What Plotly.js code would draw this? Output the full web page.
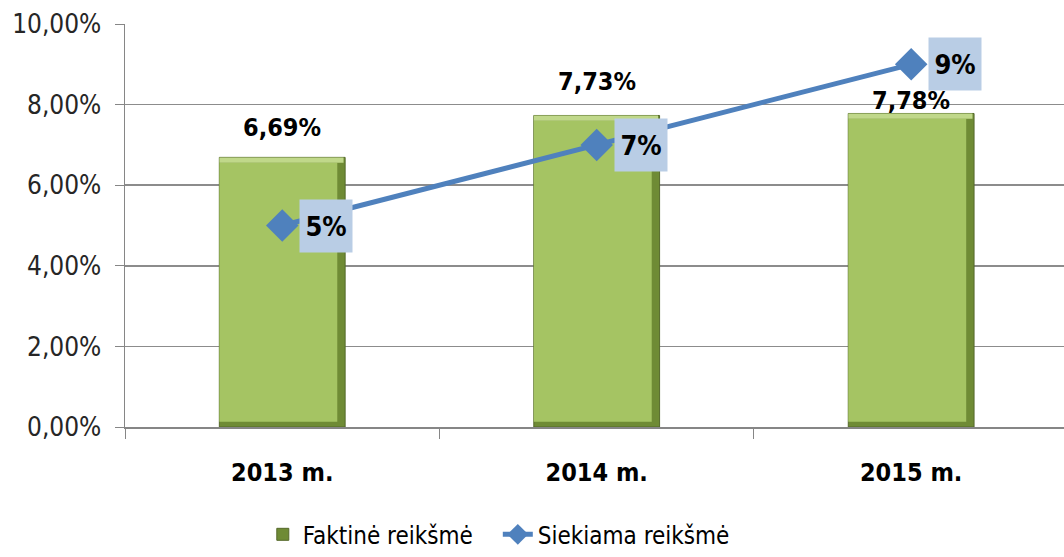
<!DOCTYPE html>
<html>
<head>
<meta charset="utf-8">
<script src="https://cdn.plot.ly/plotly-3.0.1.min.js"></script>
<style>html,body{margin:0;padding:0;background:#fff;}#chart{width:1064px;height:557px;}</style>
</head>
<body>
<div id="chart"></div>
<script>
// Data
const categories = ["2013 m.", "2014 m.", "2015 m."];
const actualValues = [6.69, 7.73, 7.78];      // Faktinė reikšmė (%)
const targetValues = [5, 7, 9];               // Siekiama reikšmė (%)
const actualLabels = ["6,69%", "7,73%", "7,78%"];
const targetLabels = ["5%", "7%", "9%"];
const yTickVals = [0, 2, 4, 6, 8, 10];
const yTickText = ["0,00%", "2,00%", "4,00%", "6,00%", "8,00%", "10,00%"];

const FONT = "Liberation Sans Narrow, Arial Narrow, DejaVu Sans Condensed, Liberation Sans, sans-serif";

// bevel effect: dark outer bar + lighter inner face (derived from the same values)
const bevel = 0.13;
const barOuter = {
  type: "bar",
  name: "Faktinė reikšmė",
  x: categories,
  y: actualValues,
  width: 0.4,
  marker: { color: "#6f8b35", line: { color: "#55692a", width: 1 } },
  hoverinfo: "skip"
};
const barInner = {
  type: "bar",
  name: "face",
  showlegend: false,
  x: categories,
  y: actualValues.map(v => v - 2 * bevel),
  base: actualValues.map(() => bevel),
  width: 0.375,
  offset: -0.2,
  marker: { color: "#a5c463", line: { width: 0 } },
  hoverinfo: "skip"
};
const barTop = {
  type: "bar",
  name: "top",
  showlegend: false,
  x: categories,
  y: actualValues.map(() => bevel),
  base: actualValues.map(v => v - bevel),
  width: 0.395,
  offset: -0.2,
  marker: { color: "#c0d88a", line: { width: 0 } },
  hoverinfo: "skip"
};
const lineTrace = {
  type: "scatter",
  mode: "lines+markers",
  name: "Siekiama reikšmė",
  x: categories,
  y: targetValues,
  line: { color: "#4f81bd", width: 5 },
  marker: { symbol: "diamond", size: 25, color: "#4f81bd" },
  hoverinfo: "skip"
};

const barLabelShift = [30, 34, 13];
const annotations = [];
categories.forEach((c, i) => {
  annotations.push({
    x: c, y: actualValues[i], xref: "x", yref: "y",
    text: "<b>" + actualLabels[i] + "</b>", showarrow: false,
    yanchor: "middle", yshift: barLabelShift[i],
    font: { family: FONT, size: 25, color: "#000" }
  });
  annotations.push({
    x: c, y: targetValues[i], xref: "x", yref: "y",
    text: "<b>" + targetLabels[i] + "</b>", showarrow: false,
    xanchor: "center", yanchor: "middle", xshift: 44,
    bgcolor: "#b9cde5", width: 50, height: 50, borderpad: 1,
    align: "center", valign: "middle",
    font: { family: FONT, size: 27, color: "#000" }
  });
});

const layout = {
  width: 1064, height: 557,
  margin: { l: 125, r: 0, t: 24, b: 130 },
  paper_bgcolor: "#fff", plot_bgcolor: "#fff",
  barmode: "overlay",
  showlegend: true,
  legend: {
    orientation: "h", xref: "container", yref: "container",
    x: 0.247, xanchor: "left", y: 0.04, yanchor: "middle",
    font: { family: FONT, size: 24, color: "#000" },
    entrywidth: 190, entrywidthmode: "pixels",
    traceorder: "normal"
  },
  xaxis: {
    type: "category",
    range: [-0.5, 2.486],
    showgrid: false,
    showline: true, linecolor: "#868686", linewidth: 1.5,
    ticks: "outside", tickson: "boundaries", ticklen: 10, tickcolor: "#868686",
    ticklabelstandoff: 22,
    tickfont: { family: FONT, size: 25, color: "#000", weight: "bold" },
    zeroline: false
  },
  yaxis: {
    range: [0, 10],
    tickvals: yTickVals, ticktext: yTickText,
    showgrid: true, gridcolor: "#8c8c8c", gridwidth: 1.5,
    showline: true, linecolor: "#868686", linewidth: 1.5,
    ticks: "outside", ticklen: 9, tickcolor: "#868686",
    ticklabelstandoff: 8,
    tickfont: { family: FONT, size: 26, color: "#262626" },
    zeroline: false
  },
  annotations: annotations
};

Plotly.newPlot("chart", [barOuter, barInner, barTop, lineTrace], layout, { displayModeBar: false, staticPlot: true });
</script>
</body>
</html>
